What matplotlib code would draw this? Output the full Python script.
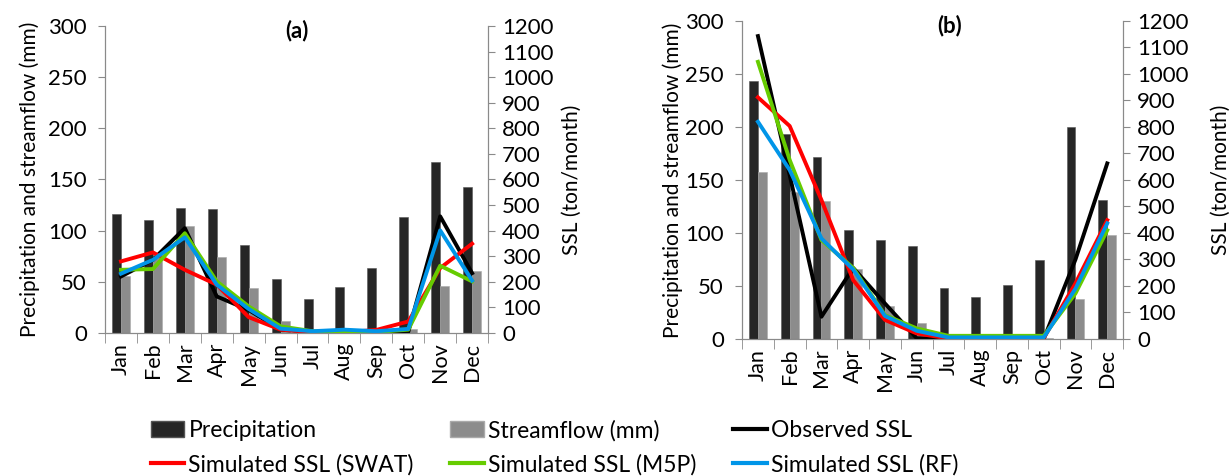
import matplotlib
matplotlib.use("Agg")
import matplotlib.pyplot as plt
import numpy as np
from matplotlib.patches import Patch
from matplotlib.lines import Line2D

plt.rcParams['font.family'] = ['Lato', 'DejaVu Sans']

months = ['Jan', 'Feb', 'Mar', 'Apr', 'May', 'Jun', 'Jul', 'Aug', 'Sep', 'Oct', 'Nov', 'Dec']

# Panel (a)
precip_a = [116, 110, 122, 121, 86, 53, 33, 45, 64, 113, 167, 143]
stream_a = [56, 75, 105, 74, 44, 12, 1, 1, 1, 4, 46, 61]
obs_a = [221, 286, 410, 143, 90, 13, 4, 4, 4, 4, 456, 234]
swat_a = [280, 315, 247, 189, 62, 13, 4, 3, 12, 45, 254, 349]
m5p_a = [247, 250, 390, 202, 104, 26, 7, 4, 4, 13, 263, 202]
rf_a = [232, 286, 374, 189, 94, 17, 7, 13, 7, 16, 401, 205]

# Panel (b)
precip_b = [243, 193, 172, 103, 93, 88, 48, 40, 51, 74, 200, 131]
stream_b = [157, 139, 130, 66, 31, 15, 1, 1, 1, 1, 38, 98]
obs_b = [1142, 618, 84, 268, 134, 3, 0, 0, 0, 0, 300, 662]
swat_b = [911, 803, 524, 222, 72, 21, 2, 2, 2, 3, 210, 448]
m5p_b = [1045, 675, 373, 268, 90, 40, 12, 12, 12, 12, 172, 410]
rf_b = [819, 637, 379, 262, 87, 31, 6, 6, 6, 6, 190, 436]

C_PRE = '#262626'
C_STR = '#8c8c8c'
C_OBS = '#000000'
C_SWAT = '#ff0000'
C_M5P = '#66cc00'
C_RF = '#0095e8'
SPINE = '#8a8a8a'

TICK_FS = 16
MONTH_FS = 15.5
LABEL_FS = 15
LW = 2.8

fig = plt.figure(figsize=(12.3, 4.76), dpi=100)

def panel(rect, title, tx, precip, stream, obs, swat, m5p, rf, lpad, rpad):
    ax = fig.add_axes(rect)
    x = np.arange(len(months))
    w = 0.28
    ax.bar(x - w / 2, precip, width=w, color=C_PRE, edgecolor='#555555', linewidth=0.4, zorder=2)
    ax.bar(x + w / 2, stream, width=w, color=C_STR, edgecolor='#aaaaaa', linewidth=0.4, zorder=2)
    ax.set_xlim(-0.5, len(months) - 0.5)
    ax.set_ylim(0, 300)
    ax.set_yticks(np.arange(0, 301, 50))
    ax.set_xticks(x)
    ax.set_xticklabels(months, rotation=90, fontsize=MONTH_FS)
    ax.set_xticks(np.arange(-0.5, len(months), 1), minor=True)
    ax.tick_params(axis='x', which='major', length=0, pad=7)
    ax.tick_params(axis='x', which='minor', length=7, color=SPINE, direction='out')
    ax.tick_params(axis='y', labelsize=TICK_FS, length=5, color=SPINE, direction='out', pad=8)
    ax.set_ylabel('Precipitation and streamflow (mm)', fontsize=LABEL_FS, labelpad=lpad)
    ax.spines['top'].set_visible(False)
    for s in ['left', 'right', 'bottom']:
        ax.spines[s].set_color(SPINE)

    ax2 = ax.twinx()
    ax2.set_ylim(0, 1200)
    ax2.set_yticks(np.arange(0, 1201, 100))
    ax2.plot(x, obs, color=C_OBS, lw=LW)
    ax2.plot(x, swat, color=C_SWAT, lw=LW)
    ax2.plot(x, m5p, color=C_M5P, lw=LW)
    ax2.plot(x, rf, color=C_RF, lw=LW)
    ax2.tick_params(axis='y', labelsize=TICK_FS, length=5, color=SPINE, direction='out', pad=5)
    ax2.set_ylabel('SSL (ton/month)', fontsize=LABEL_FS, labelpad=rpad)
    ax2.spines['top'].set_visible(False)
    for s in ['left', 'right', 'bottom']:
        ax2.spines[s].set_color(SPINE)
    ax2.text(tx, 0.985, title, transform=ax2.transAxes, ha='center', va='center',
             fontsize=16, fontweight='bold')
    return ax, ax2

panel([0.0854, 0.3004, 0.3114, 0.645], '(a)', 0.50,
      precip_a, stream_a, obs_a, swat_a, m5p_a, rf_a, 6, 6)
panel([0.6033, 0.2878, 0.3098, 0.6687], '(b)', 0.546,
      precip_b, stream_b, obs_b, swat_b, m5p_b, rf_b, 2, 16)

handles = [
    Patch(facecolor=C_PRE, edgecolor='#555555', label='Precipitation'),
    Line2D([], [], color=C_SWAT, lw=3, label='Simulated SSL (SWAT)'),
    Patch(facecolor=C_STR, edgecolor='#aaaaaa', label='Streamflow (mm)'),
    Line2D([], [], color=C_M5P, lw=3, label='Simulated SSL (M5P)'),
    Line2D([], [], color=C_OBS, lw=3, label='Observed SSL'),
    Line2D([], [], color=C_RF, lw=3, label='Simulated SSL (RF)'),
]
fig.legend(handles=handles, ncol=3, loc='center left', bbox_to_anchor=(0.115, 0.06),
           frameon=False, fontsize=16.5, handlelength=1.45, handletextpad=0.2,
           columnspacing=1.6, labelspacing=0.55, borderaxespad=0)

fig.savefig('out.png', dpi=100)
